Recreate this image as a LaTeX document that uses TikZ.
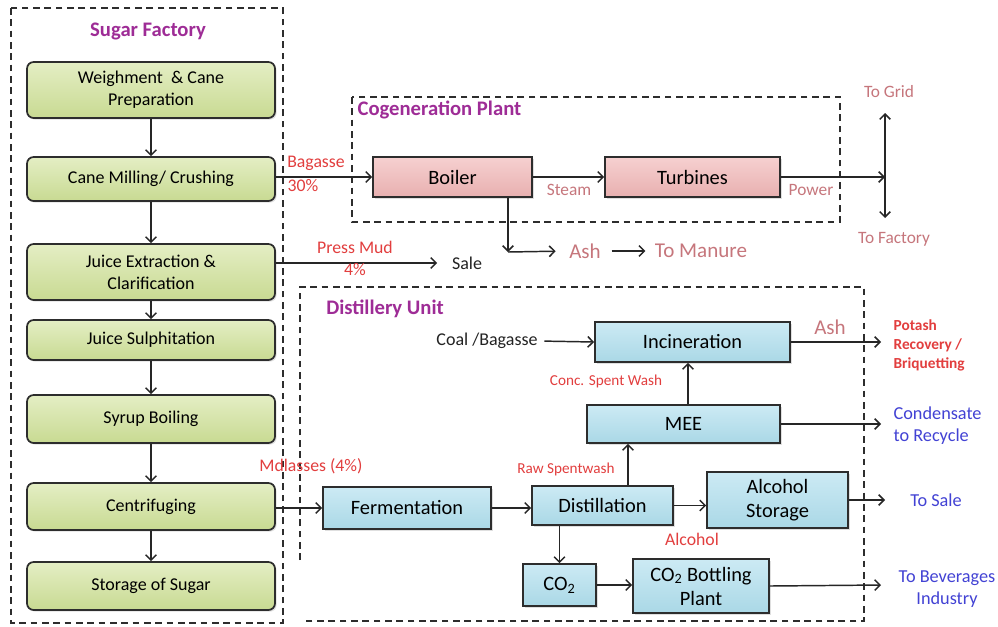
\documentclass[tikz,border=0pt]{standalone}
\usepackage{fontspec}
\setmainfont{Carlito}
\usetikzlibrary{arrows.meta,calc,shadows}
\definecolor{labred}{RGB}{226,62,62}
\definecolor{labpink}{RGB}{198,118,124}
\definecolor{labpurple}{RGB}{158,44,150}
\definecolor{labblue}{RGB}{66,66,212}
\definecolor{gfilltop}{RGB}{228,238,196}
\definecolor{gfillbot}{RGB}{200,218,146}
\definecolor{pfilltop}{RGB}{246,208,208}
\definecolor{pfillbot}{RGB}{232,176,176}
\definecolor{bfilltop}{RGB}{204,234,244}
\definecolor{bfillbot}{RGB}{170,216,230}
\definecolor{boxline}{RGB}{45,45,45}
\definecolor{txt}{RGB}{35,35,35}
\begin{document}
\begin{tikzpicture}[x=0.75pt,y=-0.75pt,
  font=\fontsize{13.5}{16}\selectfont\color{txt},
  gbox/.style={draw=boxline,line width=1.3pt,rounded corners=5pt,top color=gfilltop,bottom color=gfillbot,
    align=center,inner sep=2pt,font=\fontsize{13.5}{16.5}\selectfont,
    drop shadow={opacity=0.25,shadow xshift=1.2pt,shadow yshift=-1.2pt}},
  pbox/.style={draw=boxline,line width=1.3pt,top color=pfilltop,bottom color=pfillbot,align=center,inner sep=2pt,
    font=\fontsize{15.3}{17}\selectfont,
    drop shadow={opacity=0.25,shadow xshift=1.2pt,shadow yshift=-1.2pt}},
  bbox/.style={draw=boxline,line width=1.3pt,top color=bfilltop,bottom color=bfillbot,align=center,inner sep=2pt,
    font=\fontsize{15.3}{18}\selectfont,
    drop shadow={opacity=0.25,shadow xshift=1.2pt,shadow yshift=-1.2pt}},
  frame/.style={draw=boxline,line width=1.2pt,dash pattern=on 5pt off 3.5pt},
  flow/.style={draw=black!85,line width=1.1pt,-{Straight Barb[length=4pt,width=8pt,line width=1.1pt]}},
  title/.style={font=\fontsize{15.5}{18}\selectfont\bfseries,text=labpurple,inner sep=1pt},
  redlab/.style={font=\fontsize{13.3}{15}\selectfont,text=labred,inner sep=1pt},
  smallred/.style={font=\fontsize{11.4}{13}\selectfont,text=labred,inner sep=1pt},
  pinklab/.style={font=\fontsize{13}{15}\selectfont,text=labpink,inner sep=1pt},
  bigpink/.style={font=\fontsize{15.8}{18}\selectfont,text=labpink,inner sep=1pt},
  bluelab/.style={font=\fontsize{13.7}{16.5}\selectfont,text=labblue,inner sep=1pt},
  plain/.style={font=\fontsize{13.5}{16}\selectfont,text=txt,inner sep=1pt}
]
\useasboundingbox[fill=white] (0,0) rectangle (998,626);

% frames
\draw[frame] (11,8) rectangle (283,623);
\draw[frame] (352,97) rectangle (840,222);
\draw[frame] (300,560) -- (300,287) -- (864,287) -- (864,621) -- (302,621);

\node[title] (tsf) at (148,31) {Sugar Factory};
\node[title,anchor=west] (tcp) at (356,110) {Cogeneration Plant};
\node[title] (tdu) at (385,309) {Distillery Unit};

% sugar factory chain
\node[gbox,minimum width=248*0.75pt,minimum height=56*0.75pt] (w1) at (151,90) {Weighment \ \& Cane\\Preparation};
\node[gbox,minimum width=248*0.75pt,minimum height=44*0.75pt] (w2) at (151,179) {Cane Milling/ Crushing};
\node[gbox,minimum width=248*0.75pt,minimum height=56*0.75pt] (w3) at (151,272) {Juice Extraction \&\\Clarification};
\node[gbox,minimum width=248*0.75pt,minimum height=40*0.75pt] (w4) at (151,340) {Juice Sulphitation};
\node[gbox,minimum width=248*0.75pt,minimum height=48*0.75pt] (w5) at (151,419) {Syrup Boiling};
\node[gbox,minimum width=248*0.75pt,minimum height=47*0.75pt] (w6) at (151,506.5) {Centrifuging};
\node[gbox,minimum width=248*0.75pt,minimum height=48*0.75pt] (w7) at (151,586) {Storage of Sugar};
\draw[flow] (w1) -- (w2);
\draw[flow] (w2) -- (w3);
\draw[flow] (w3) -- (w4);
\draw[flow] (w4) -- (w5);
\draw[flow] (w5) -- (w6);
\draw[flow] (w6) -- (w7);

% cogeneration
\node[pbox,minimum width=159*0.75pt,minimum height=40*0.75pt] (boiler) at (452.5,177) {Boiler};
\node[pbox,minimum width=175*0.75pt,minimum height=40*0.75pt] (turb) at (692.5,177) {Turbines};
\draw[flow] (w2.east |- boiler.west) -- (boiler.west);
\node[redlab] (bag) at (316,163) {Bagasse};
\node[redlab] (bagp) at (303,186) {30\%};
\draw[flow] (boiler.east) -- (turb.west);
\node[pinklab] (steam) at (569,190) {Steam};
\coordinate (pw) at (885,177);
\coordinate (grid) at (885,113);
\coordinate (fact) at (885,218);
\draw[flow] (turb.east) -- (pw);
\draw[flow,{Straight Barb[length=4pt,width=8pt,line width=1.1pt]}-{Straight Barb[length=4pt,width=8pt,line width=1.1pt]}] (grid) -- (fact);
\node[pinklab] (power) at (811,190) {Power};
\node[pinklab] (togrid) at (889,92) {To Grid};
\node[pinklab] (tofact) at (894,239) {To Factory};
\coordinate (bd) at (508,252);
\draw[flow] (boiler.south -| bd) -- (bd);
\node[bigpink] (ash1) at (585,251) {Ash};
\node[bigpink] (manure) at (701,251) {To Manure};
\draw[flow,shorten >=9pt] (bd) -- (ash1.west);
\draw[flow,shorten <=7pt,shorten >=6pt] (ash1.east) -- (manure.west);

% press mud
\node[plain] (sale) at (467,263) {Sale};
\draw[flow] (w3.east |- sale) -- ([xshift=-10pt]sale.west);
\node[redlab] (pm) at (355,247) {Press Mud};
\node[redlab] (pmp) at (355,270) {4\%};

% distillery
\node[bbox,minimum width=195*0.75pt,minimum height=40*0.75pt] (inc) at (692.5,342) {Incineration};
\node[plain] (coal) at (487,341) {Coal /Bagasse};
\draw[flow,shorten <=4pt] (coal.east) -- (inc.west);
\node[bbox,minimum width=193*0.75pt,minimum height=38*0.75pt] (mee) at (683.5,424) {MEE};
\node[bbox,minimum width=168*0.75pt,minimum height=42*0.75pt] (ferm) at (407,508) {Fermentation};
\node[bbox,minimum width=141*0.75pt,minimum height=39*0.75pt] (dist) at (602.5,505.5) {Distillation};
\node[bbox,minimum width=141*0.75pt,minimum height=56*0.75pt] (alc) at (777.5,500) {Alcohol\\Storage};
\node[bbox,minimum width=73*0.75pt,minimum height=42*0.75pt] (co2) at (559.5,585) {CO\textsubscript{2}};
\node[bbox,minimum width=136*0.75pt,minimum height=54*0.75pt] (bott) at (701,586) {CO\textsubscript{2} Bottling\\Plant};

\draw[flow] (w6.east |- ferm.west) -- (ferm.west);
\node[redlab] (mol) at (311,466) {Mdlasses (4\%)};
\draw[flow] (ferm.east) -- (ferm.east -| dist.west);
\draw[flow] (dist.east) -- (dist.east -| alc.west);
\node[redlab] (alcl) at (692,539) {Alcohol};
\coordinate (rs) at ($(dist.north)+(25.5,0)$);
\draw[flow] (rs) -- (rs |- mee.south);
\node[smallred] (raw) at (566,469) {Raw Spentwash};
\coordinate (cs) at ($(mee.north)+(4.5,0)$);
\draw[flow] (cs) -- (cs |- inc.south);
\node[smallred] (conc) at (606,381) {Conc. Spent Wash};
\draw[flow] (co2.north |- dist.south) -- (co2.north);
\draw[flow] (co2.east) -- (co2.east -| bott.west);

\coordinate (o1) at (881,342);
\coordinate (o2) at (881,424);
\coordinate (o3) at (885,500);
\coordinate (o4) at (881,585);
\draw[flow] (inc.east) -- (o1);
\draw[flow] (mee.east) -- (o2);
\draw[flow] (alc.east) -- (o3);
\draw[flow] (bott.east) -- (o4);
\node[bigpink] (ash2) at (830,327) {Ash};
\node[font=\fontsize{11.5}{14.2}\selectfont\bfseries,text=labred,align=left,anchor=west,inner sep=1pt] (potash) at (892,345) {Potash\\Recovery /\\Briquetting};
\node[bluelab,align=left,anchor=west] (cond) at (892,426) {Condensate\\to Recycle};
\node[bluelab] (tosale) at (936,500) {To Sale};
\node[bluelab,align=center] (bev) at (947,589) {To Beverages\\Industry};
\end{tikzpicture}
\end{document}
